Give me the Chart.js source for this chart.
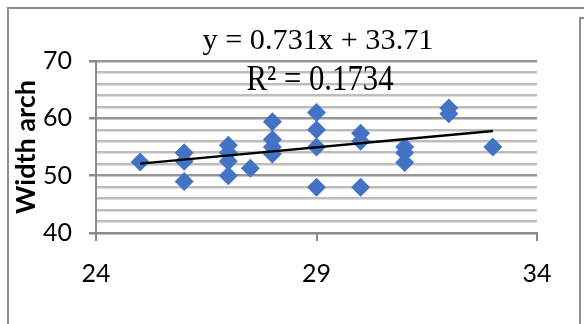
<!DOCTYPE html>
<html>
<head>
<meta charset="utf-8">
<script src="https://cdn.jsdelivr.net/npm/chart.js@4.4.1/dist/chart.umd.min.js"></script>
<style>
  html, body { margin: 0; padding: 0; background: #fff; }
  #wrap { position: relative; width: 584px; height: 324px; overflow: hidden; }
  #chart { position: absolute; left: 0; top: 0; }
  .frame { position: absolute; border-left: 2px solid #8e8e8e; border-top: 2px solid #8e8e8e; }
</style>
</head>
<body>
<div id="wrap">
  <div class="frame" style="left:7px; top:7px; width:700px; height:400px;"></div>
  <div class="frame" style="left:579px; top:17px; width:100px; height:400px;"></div>
  <canvas id="chart" width="584" height="324"></canvas>
</div>
<script>
// values
const xValues = [25, 26, 26, 26, 27, 27, 27, 27, 27.5, 28, 28, 28, 28, 29, 29, 29, 29, 30, 30, 30, 31, 31, 31, 32, 32, 33];
const yValues = [52.4, 54, 52.5, 49, 55.3, 54, 52.5, 50, 51.3, 59.4, 56.3, 55, 53.8, 61, 58, 55, 48, 57.4, 56, 48, 55, 54, 52.3, 61.8, 60.8, 55];

// trendline end points (Excel linear trendline)
const trendX = [25, 33];
const trendY = [52.1, 57.8];

const xTickLabels = [24, 29, 34];
const yTickLabels = [40, 50, 60, 70];

const yTitle = 'Width arch';
const eqText = 'y = 0.731x + 33.71';
const r2Text = 'R² = 0.1734';

const axisGrey = '#8a8a8a';
const tickFont = { family: "'Liberation Sans Narrow', Lato, sans-serif", size: 25 };

// draw text squeezed/stretched to a given width, like the trendline label box
function drawFitText(ctx, text, cx, baseline, size, targetW) {
    ctx.save();
    ctx.font = size + 'px "Liberation Serif", "DejaVu Serif", serif';
    const w = ctx.measureText(text).width;
    ctx.translate(cx, baseline);
    ctx.scale(targetW / w, 1);
    ctx.textAlign = 'center';
    ctx.textBaseline = 'alphabetic';
    ctx.fillStyle = '#000';
    ctx.fillText(text, 0, 0);
    ctx.restore();
}

const trendLabel = {
    id: 'trendLabel',
    afterDraw(chart) {
        const ctx = chart.ctx;
        drawFitText(ctx, eqText, 318, 49, 30, 231);
        drawFitText(ctx, r2Text, 320, 90, 35, 147);
    }
};

const points = xValues.map((x, i) => ({ x: x, y: yValues[i] }));
const trendPoints = trendX.map((x, i) => ({ x: x, y: trendY[i] }));

new Chart(document.getElementById('chart'), {
    type: 'scatter',
    data: {
        datasets: [
            {
                label: 'Linear',
                data: trendPoints,
                showLine: true,
                borderColor: '#000',
                borderWidth: 2.5,
                pointRadius: 0,
                order: 0
            },
            {
                label: 'Width arch',
                data: points,
                pointStyle: 'rectRot',
                pointRadius: 9.5,
                pointHoverRadius: 9.5,
                backgroundColor: '#4472C4',
                borderWidth: 0,
                order: 1
            }
        ]
    },
    options: {
        responsive: false,
        animation: false,
        layout: { padding: { left: 0, right: 47, top: 61, bottom: 0 } },
        plugins: {
            legend: { display: false },
            tooltip: { enabled: false }
        },
        scales: {
            x: {
                type: 'linear',
                min: 24,
                max: 34,
                ticks: {
                    stepSize: 5,
                    autoSkip: false,
                    padding: 18,
                    color: '#000',
                    font: tickFont,
                    callback: v => xTickLabels.includes(v) ? String(v) : ''
                },
                grid: {
                    drawOnChartArea: false,
                    tickLength: 8,
                    tickColor: axisGrey,
                    lineWidth: 2
                },
                border: { color: axisGrey, width: 2 },
                afterFit(scale) { scale.height = 91; }
            },
            y: {
                min: 40,
                max: 70,
                ticks: {
                    stepSize: 2,
                    autoSkip: false,
                    padding: 17,
                    color: '#000',
                    font: tickFont,
                    callback: v => yTickLabels.includes(v) ? String(v) : ''
                },
                grid: {
                    lineWidth: 2.5,
                    tickLength: 7,
                    color: c => {
                        const v = c.tick ? c.tick.value : 0;
                        if (v === 40) return axisGrey;
                        return yTickLabels.includes(v) ? '#969696' : '#bdbdbd';
                    },
                    tickColor: c => (c.tick && yTickLabels.includes(c.tick.value)) ? axisGrey : 'rgba(0,0,0,0)'
                },
                border: { color: axisGrey, width: 2 },
                title: {
                    display: true,
                    text: yTitle,
                    color: '#000',
                    font: { family: "Lato, 'Liberation Sans', sans-serif", size: 27, weight: 'bold' },
                    padding: { top: 10, bottom: 0 }
                },
                afterFit(scale) { scale.width = 96; }
            }
        }
    },
    plugins: [trendLabel]
});
</script>
</body>
</html>
